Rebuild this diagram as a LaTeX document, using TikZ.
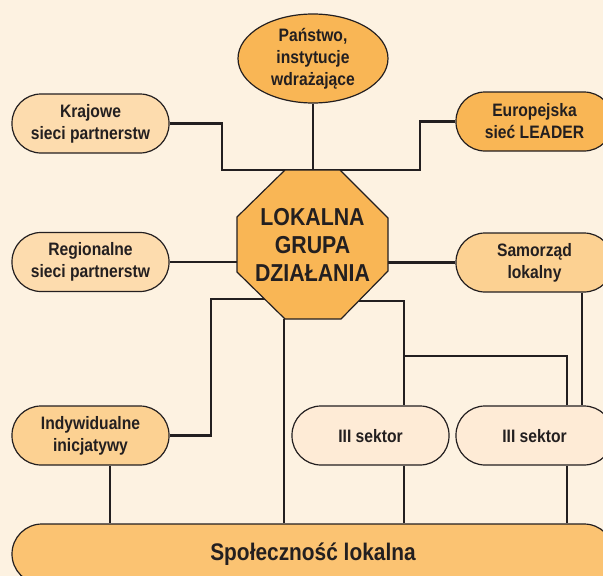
\documentclass[tikz,border=0pt]{standalone}
\usepackage{fontspec}
\setmainfont{Liberation Sans}[FakeStretch=0.87]
\usetikzlibrary{shapes.geometric,calc}
\pgfdeclarelayer{back}
\pgfdeclarelayer{bg}
\pgfsetlayers{back,bg,main}
\definecolor{bgc}{HTML}{FDF2E1}
\definecolor{lightc}{HTML}{FDDCAE}
\definecolor{midc}{HTML}{FCD192}
\definecolor{darkc}{HTML}{F9B655}
\definecolor{socc}{HTML}{FBC372}
\definecolor{sekc}{HTML}{FEEBD6}
\definecolor{ink}{HTML}{231F20}
\begin{document}
\begin{tikzpicture}[x=1pt,y=-1pt,
  txt/.style={text=ink,align=center,font=\fontsize{18}{22}\selectfont\bfseries},
  pill/.style={txt,draw=ink,line width=1.2pt,rounded corners=29pt,minimum width=157pt,minimum height=59pt,inner sep=0pt},
  sekbox/.style={pill,fill=sekc,text height=18pt,text depth=4pt},
  conn/.style={draw=ink,line width=2.2pt}]
\useasboundingbox (0,0) rectangle (603,576);
\begin{pgfonlayer}{back}
\fill[bgc] (0,0) rectangle (603,576);
\end{pgfonlayer}
\clip (0,0) rectangle (603,576);

% nodes
\node[txt,shape=ellipse,draw=ink,line width=1.2pt,fill=darkc,minimum width=150pt,minimum height=89pt,inner sep=0pt] (pan) at (313,58.5) {Państwo,\\instytucje\\wdrażające};
\node[pill,fill=lightc] (kraj) at (90.5,123.5) {Krajowe\\sieci partnerstw};
\node[pill,fill=darkc] (euro) at (534.5,121.5) {Europejska\\sieć LEADER};
\node[pill,fill=lightc] (reg) at (90.5,262) {Regionalne\\sieci partnerstw};
\node[pill,fill=midc] (sam) at (534.5,262.5) {Samorząd\\lokalny};
\node[pill,fill=midc] (ind) at (90.5,435.5) {Indywidualne\\inicjatywy};
\node[sekbox] (sek1) at (370.5,435.5) {III sektor};
\node[sekbox] (sek2) at (534.5,435.5) {III sektor};
\node[txt,draw=ink,line width=1.2pt,fill=socc,rounded corners=30pt,minimum width=602pt,minimum height=60pt,inner sep=0pt,font=\fontsize{24}{28}\selectfont\bfseries] (soc) at (313,554) {Społeczność lokalna};

% octagon
\fill[darkc,draw=ink,line width=1.2pt] (285,170) -- (340,170) -- (388,218) -- (388,271) -- (341,319) -- (285,319) -- (237,272) -- (237,217) -- cycle;
\node[txt,minimum width=151pt,minimum height=149pt,inner sep=0pt,font=\fontsize{24.5}{28}\selectfont\bfseries] (lgd) at (312.5,244.5) {LOKALNA\\GRUPA\\DZIAŁANIA};

\begin{pgfonlayer}{bg}
\draw[conn] (kraj.east) -| (222,170) -- (420,170) |- (euro.west);
\draw[conn] (pan.south) -- (pan.south |- lgd.north);
\draw[conn] (reg.east) -- (reg.east -| lgd.center);
\draw[conn] (sam.west) -- (sam.west -| lgd.center);
\draw[conn] ($(lgd.center)+(0,54.5)$) -| ($(ind.east)+(41,0)$) -- (ind.east);
\draw[conn] (ind.south -| 110,0) -- (soc.north -| 110,0);
\draw[conn] (lgd.south -| 284,0) -- (soc.north -| 284,0);
\draw[conn] ($(lgd.center)+(0,56.5)$) -| (sek1.north -| 404,0);
\coordinate (br) at (404,356);
\draw[conn] (br) -| (sek2.north -| 567,0);
\draw[conn] (sek1.south -| 404,0) -- (soc.north -| 404,0);
\draw[conn] (sek2.south -| 567,0) -- (soc.north -| 567,0);
\draw[conn] (sam.south -| 582,0) -- (sek2.north -| 582,0);
\end{pgfonlayer}
\end{tikzpicture}
\end{document}
